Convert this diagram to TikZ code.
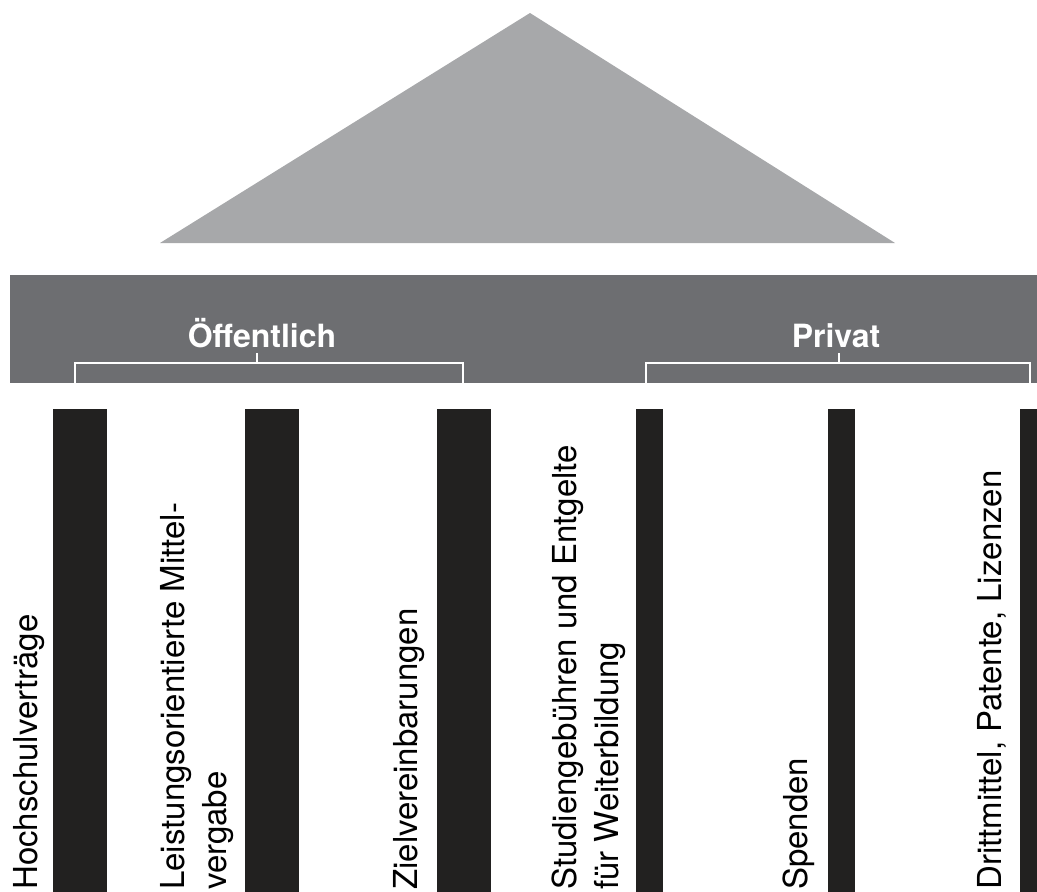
\documentclass[tikz,border=0pt]{standalone}
\usepackage{fontspec}
\setmainfont{TeX Gyre Heros}
\definecolor{roof}{HTML}{A7A8AA}
\definecolor{beam}{HTML}{6D6E71}
\definecolor{pillar}{HTML}{222120}

\begin{document}
\begin{tikzpicture}
  [x=1pt,y=-1pt,
   pillartext/.style={rotate=90,anchor=north west,inner sep=0pt,align=left,
     font=\fontsize{33}{42}\selectfont},
   grouptext/.style={anchor=base,inner sep=0pt,text=white,
     font=\fontsize{32}{38}\selectfont\bfseries},
   bracket/.style={draw=white,line width=1.5pt}]
  \useasboundingbox (0,0) rectangle (1037,892);
  % roof and beam
  \fill[roof] (160,243) -- (530,13) -- (895,243) -- cycle;
  \fill[beam] (10,275) rectangle (1037,383);
  % pillars
  \foreach \x/\w in {53/54,245/54,437/54,636/27,828/27,1020/27}
    \fill[pillar] (\x,409) rectangle ++(\w,483);
  % groups
  \node[grouptext] (oeff) at (262,347) {Öffentlich};
  \node[grouptext] (priv) at (836,347) {Privat};
  \draw[bracket] (75,383) -- (75,363) -- (463,363) -- (463,383);
  \draw[bracket] (257,353) -- (257,363);
  \draw[bracket] (646,383) -- (646,363) -- (1030,363) -- (1030,383);
  \draw[bracket] (839,353) -- (839,363);
  % pillar labels
  \node[pillartext] (hsv) at (13,890) {Hochschulverträge};
  \node[pillartext] (lom) at (160,890) {Leistungsorientierte Mittel-\\vergabe};
  \node[pillartext] (zv) at (393,890) {Zielvereinbarungen};
  \node[pillartext] (stud) at (552,890) {Studiengebühren und Entgelte\\für Weiterbildung};
  \node[pillartext] (spend) at (783,890) {Spenden};
  \node[pillartext] (dritt) at (977,890) {Drittmittel, Patente, Lizenzen};
\end{tikzpicture}
\end{document}
